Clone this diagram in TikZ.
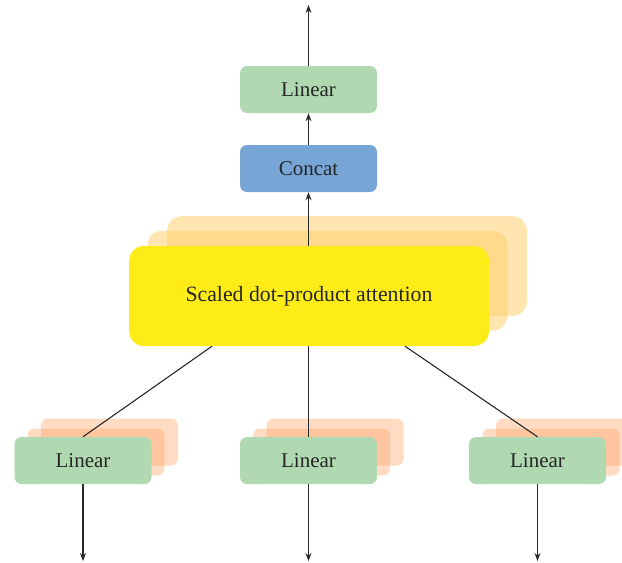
\documentclass[tikz,border=0pt]{standalone}
\usepackage{fontspec}
\setmainfont{Liberation Serif}
\usetikzlibrary{arrows.meta,backgrounds,calc}
\definecolor{lingreen}{RGB}{176,217,177}
\definecolor{catblue}{RGB}{118,165,214}
\definecolor{attyellow}{RGB}{253,236,24}
\definecolor{shadeorange}{RGB}{255,207,109}
\definecolor{shadepeach}{RGB}{255,163,101}
\definecolor{linegray}{RGB}{40,40,40}
\tikzset{
  box/.style={rectangle, rounded corners=7pt, minimum width=137pt, minimum height=47pt, inner sep=0pt, font=\fontsize{21}{24}\selectfont, text=black!85},
  linbox/.style={box, fill=lingreen},
  catbox/.style={box, fill=catblue},
  attbox/.style={rectangle, rounded corners=15pt, minimum width=360pt, minimum height=100pt, inner sep=0pt, fill=attyellow, font=\fontsize{21.8}{24}\selectfont, text=black!85},
  attshade/.style={rectangle, rounded corners=15pt, minimum width=360pt, minimum height=100pt, fill=shadeorange, fill opacity=0.54},
  linshade/.style={rectangle, rounded corners=7pt, minimum width=137pt, minimum height=47pt, fill=shadepeach, fill opacity=0.39},
  conn/.style={draw=linegray, line width=1.1pt},
  arr/.style={conn, -{Stealth[length=8pt,width=6pt]}}
}
\begin{document}
\begin{tikzpicture}[x=1pt,y=-1pt]
\useasboundingbox (0,0) rectangle (622,563);
% main nodes
\node[linbox] (lintop) at (308.5,89.5) {Linear};
\node[catbox] (concat) at (308.5,168.5) {Concat};
\node[attbox] (att) at (309,296) {Scaled dot-product attention};
\node[linbox] (linL) at (83,460.5) {Linear};
\node[linbox] (linM) at (308.5,460.5) {Linear};
\node[linbox] (linR) at (537.5,460.5) {Linear};
% shadows
\begin{scope}[on background layer]
\node[attshade] (attS1) at (327.5,280.5) {};
\node[attshade] (attS2) at (347,266) {};
\node[linshade] (linLS1) at (96,452) {};
\node[linshade] (linLS2) at (109.5,442) {};
\node[linshade] (linMS1) at (321.5,452) {};
\node[linshade] (linMS2) at (335,442) {};
\node[linshade] (linRS1) at (551,452) {};
\node[linshade] (linRS2) at (564.5,442) {};
\end{scope}
% free ends
\coordinate (outTop) at (308.5,5);
\coordinate (inL) at (83,561);
\coordinate (inM) at (308.5,561);
\coordinate (inR) at (537.5,561);
% connectors
\draw[arr] (lintop.north) -- (outTop);
\draw[arr] (concat.north) -- (lintop.south);
\draw[arr] (att.north -| concat.south) -- (concat.south);
\draw[conn] (linL.north) -- ($(att.south)+(-97,0)$);
\draw[conn] (linM.north) -- (linM.north |- att.south);
\draw[conn] (linR.north) -- ($(att.south)+(96,0)$);
\draw[arr] (linL.south) -- (inL);
\draw[arr] (linM.south) -- (inM);
\draw[arr] (linR.south) -- (inR);
\end{tikzpicture}
\end{document}
